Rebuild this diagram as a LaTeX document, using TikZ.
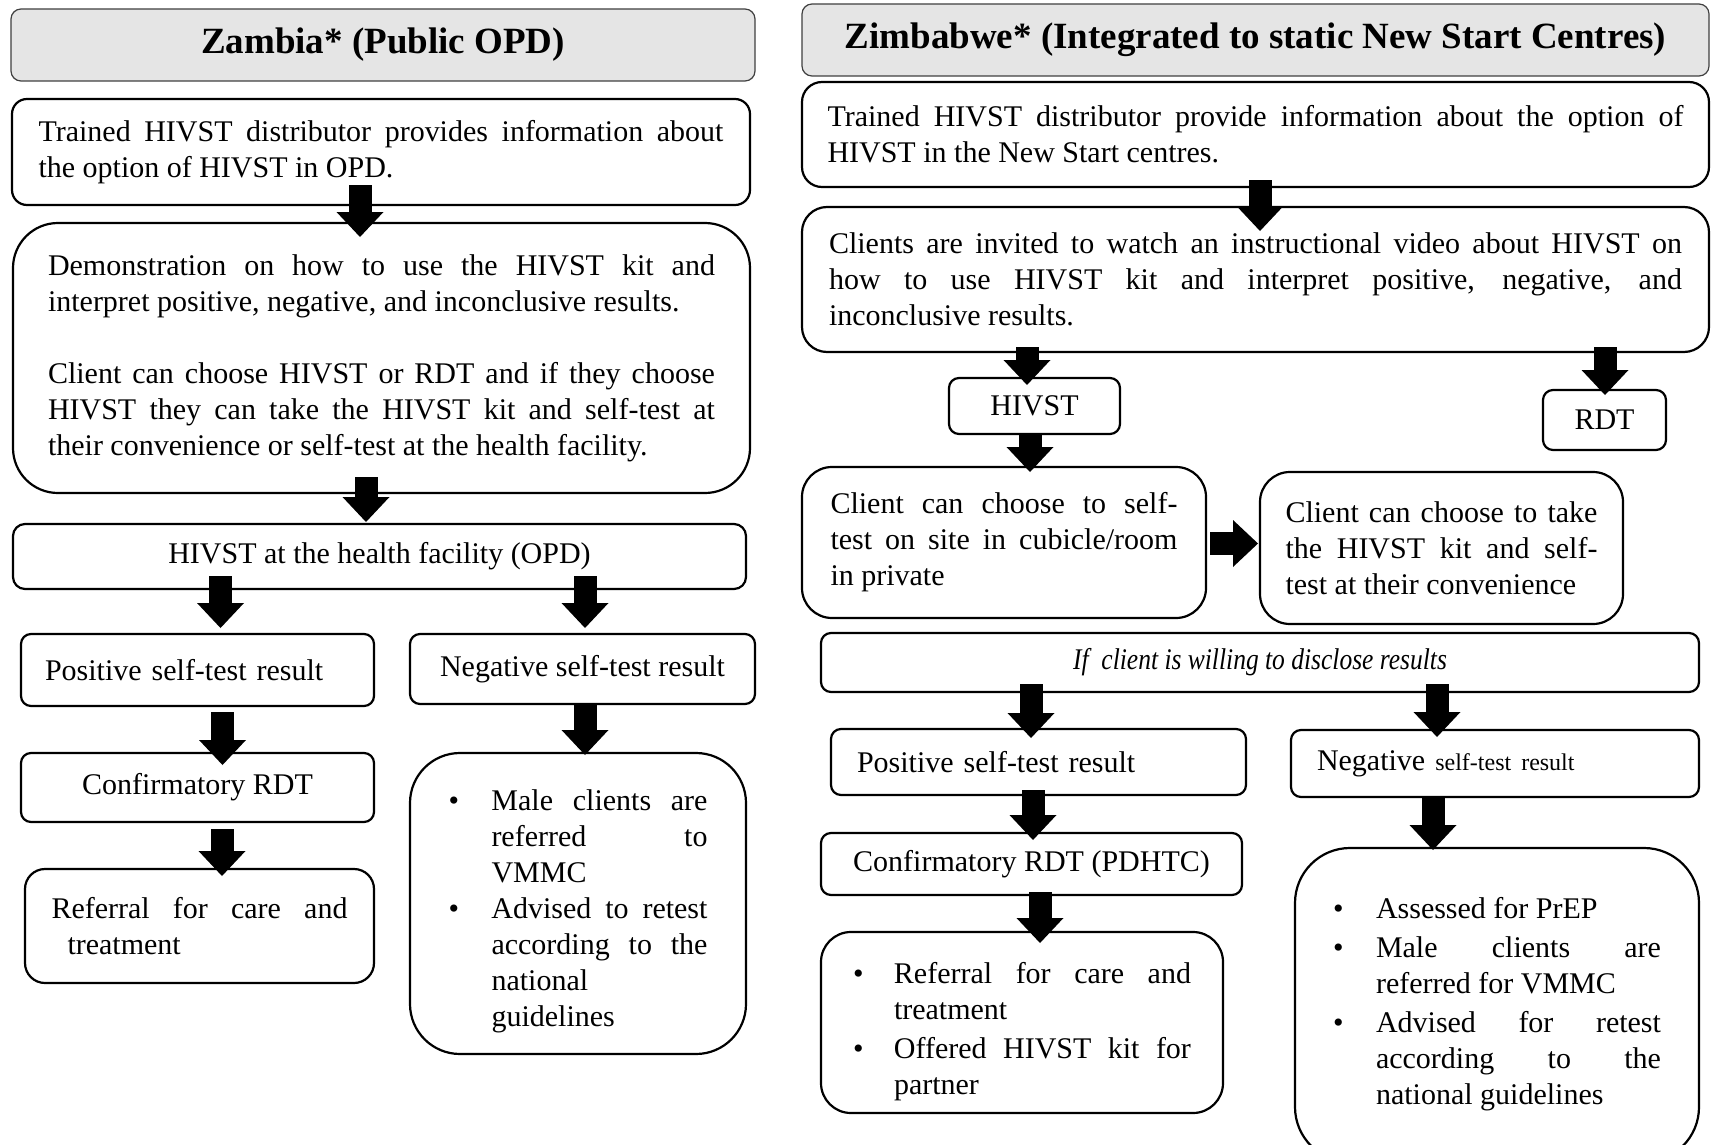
\documentclass[tikz,border=0pt]{standalone}
\usepackage{fontspec}
\setmainfont{Liberation Serif}
\usepackage{graphicx}
\usetikzlibrary{arrows.meta}

% box given by its corners (x1,y1)-(x2,y2) in picture units
\newcommand\boxnode[7]{%
  \node[frame, minimum width={#4-#2}, minimum height={#5-#3}, #6] (#1)
    at ({(#2+#4)/2},{(#3+#5)/2}) {#7};}
% bullet paragraph with hanging indent
\newcommand\bitem[2]{\par\noindent\hangindent=#1\hangafter=1\makebox[#1][l]{\textbullet}#2\par}

\tikzset{
  body/.style={font=\fontsize{30}{36}\selectfont},
  frame/.style={draw=black, line width=2.2pt, fill=white, inner sep=0pt, outer sep=0pt, body,
    execute at begin node={\tolerance=10000\hbadness=10000\parindent=0pt}},
  header/.style={draw=black!75, line width=1.2pt, fill=black!10, rounded corners=10pt,
    font=\fontsize{37}{44}\selectfont\bfseries},
  flow/.style={draw=black, line width=23pt,
    -{Triangle[length=25pt 0 0, width=47pt 0 0, line width=0pt]}},
}

\begin{document}
\begin{tikzpicture}[x=1pt, y=-1pt]
\useasboundingbox (0,0) rectangle (1711,1145);
\fill[white] (0,0) rectangle (1711,1145);

% ---------------- Zambia ----------------
\boxnode{zt}{11}{9}{755}{81}{header}{Zambia* (Public OPD)}
\boxnode{zb1}{12}{99}{750}{205}{rounded corners=15pt, text width=685pt, align=justify}%
  {Trained HIVST distributor provides information about\linebreak the option of HIVST in OPD.}
\boxnode{zb2}{13}{223}{750}{493}{rounded corners=45pt, text width=667pt, align=justify}%
  {Demonstration on how to use the HIVST kit and\linebreak interpret positive, negative, and inconclusive results.\par\vspace{36pt}%
   Client can choose HIVST or RDT and if they choose\linebreak HIVST they can take the HIVST kit and self-test at\linebreak their convenience or self-test at the health facility.}
\boxnode{zb3}{13}{524}{746}{589}{rounded corners=12pt}{HIVST at the health facility (OPD)}
\boxnode{zpos}{21}{634}{374}{706}{rounded corners=10pt, text width=305pt, align=left}{Positive self-test result}
\boxnode{zneg}{410}{634}{755}{704}{rounded corners=10pt}{Negative self-test result}
\boxnode{zconf}{21}{753}{374}{822}{rounded corners=10pt}{Confirmatory RDT}
\boxnode{zref}{25}{869}{374}{983}{rounded corners=20pt, text width=296pt, align=justify}%
  {\hangindent=16pt\hangafter=1 Referral for care and\linebreak treatment\par}
\boxnode{zbul}{410}{753}{746}{1054}{rounded corners=50pt, text width=259pt, align=justify}%
  {\bitem{43pt}{Male clients are\linebreak referred to\linebreak VMMC}%
   \bitem{43pt}{Advised to retest\linebreak according to the\linebreak national\linebreak guidelines}}

\draw[flow] ([shift={(-21,-20)}]zb1.south) -- ([shift={(-21.5,14)}]zb2.north);
\draw[flow] ([shift={(-15.5,-16)}]zb2.south) -- ([shift={(-13.5,-2)}]zb3.north);
\draw[flow] ([shift={(-159,-13)}]zb3.south) -- ([shift={(23,-6)}]zpos.north);
\draw[flow] ([shift={(205.5,-13)}]zb3.south) -- ([shift={(2.5,-6)}]zneg.north);
\draw[flow] ([shift={(25,6)}]zpos.south) -- ([shift={(25,12)}]zconf.north);
\draw[flow] ([shift={(24.5,7)}]zconf.south) -- ([shift={(22.5,7)}]zref.north);
\draw[flow] ([shift={(2.5,1)}]zneg.south) -- ([shift={(7,2)}]zbul.north);

% ---------------- Zimbabwe ----------------
\boxnode{wt}{802}{4}{1709}{76}{header}{Zimbabwe* (Integrated to static New Start Centres)}
\boxnode{wb1}{802}{82}{1709}{187}{rounded corners=20pt, text width=856pt, align=justify}%
  {Trained HIVST distributor provide information about the option of\linebreak HIVST in the New Start centres.}
\boxnode{wb2}{802}{207}{1709}{352}{rounded corners=25pt, text width=853pt, align=justify}%
  {Clients are invited to watch an instructional video about HIVST on\linebreak how to use HIVST kit and interpret positive, negative, and\linebreak inconclusive results.}
\boxnode{whiv}{949}{378}{1120}{434}{rounded corners=10pt}{HIVST}
\boxnode{wrdt}{1543}{390}{1666}{450}{rounded corners=10pt}{RDT}
\boxnode{wsite}{802}{467}{1206}{618}{rounded corners=30pt, text width=347pt, align=justify}%
  {Client can choose to self-\linebreak test on site in cubicle/room\linebreak in private}
\boxnode{wtake}{1260}{472}{1623}{624}{rounded corners=30pt, text width=312pt, align=justify}%
  {Client can choose to take\linebreak the HIVST kit and self-\linebreak test at their convenience}
\boxnode{wif}{821}{633}{1699}{692}{rounded corners=10pt}%
  {\scalebox{0.85}[1]{\itshape If\ \ client is willing to disclose results}}
\boxnode{wpos}{831}{729}{1246}{795}{rounded corners=10pt, text width=363pt, align=left}{Positive self-test result}
\boxnode{wneg}{1291}{730}{1699}{797}{rounded corners=10pt, text width=356pt, align=left}%
  {Negative {\fontsize{24}{36}\selectfont self-test result}}
\boxnode{wconf}{821}{833}{1242}{895}{rounded corners=10pt}{Confirmatory RDT (PDHTC)}
\boxnode{wbul}{821}{932}{1223}{1113}{rounded corners=30pt, text width=338pt, align=justify}%
  {\parskip=3pt\bitem{41pt}{Referral for care and\linebreak treatment}%
   \bitem{41pt}{Offered HIVST kit for\linebreak partner}}
% this box runs past the lower edge of the page
\boxnode{wnbul}{1295}{848}{1699}{1162}{rounded corners=55pt, text width=328pt, align=justify}%
  {\parskip=3pt\bitem{43pt}{Assessed for PrEP}%
   \bitem{43pt}{Male clients are\linebreak referred for VMMC}%
   \bitem{43pt}{Advised for retest\linebreak according to the\linebreak national guidelines}%
   \vspace{20pt}\hrule height 0pt}

\draw[flow] ([shift={(4.5,-7)}]wb1.south) -- ([shift={(4.5,24)}]wb2.north);
\draw[flow] ([shift={(-228.5,-5)}]wb2.south) -- ([shift={(-7.5,7)}]whiv.north);
\draw[flow] ([shift={(349.5,-5)}]wb2.south) -- ([shift={(0.5,5)}]wrdt.north);
\draw[flow] ([shift={(-4.5,1)}]whiv.south) -- ([shift={(26,5)}]wsite.north);
\draw[flow] ([shift={(4,1)}]wsite.east) -- ([shift={(-2,-4.5)}]wtake.west);
\draw[flow] ([shift={(-229,-8)}]wif.south) -- ([shift={(-7.5,9)}]wpos.north);
\draw[flow] ([shift={(177,-8)}]wif.south) -- ([shift={(-58,7)}]wneg.north);
\draw[flow] ([shift={(-5.5,-5)}]wpos.south) -- ([shift={(1.5,7)}]wconf.north);
\draw[flow] ([shift={(8.5,-3)}]wconf.south) -- ([shift={(18,11)}]wbul.north);
\draw[flow] ([shift={(-62,0)}]wneg.south) -- ([shift={(-64,2)}]wnbul.north);
\end{tikzpicture}
\end{document}
